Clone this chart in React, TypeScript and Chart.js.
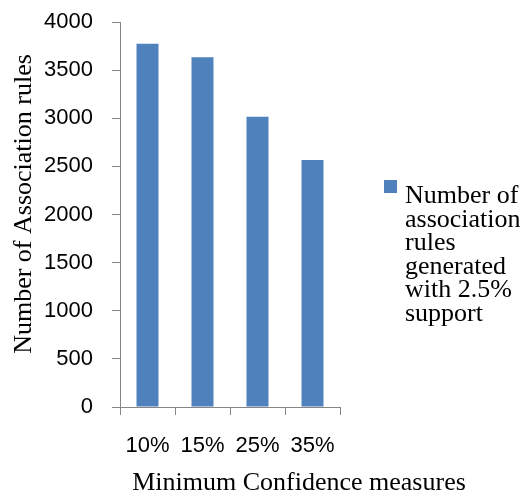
import { useEffect, useRef } from "react";
import { Chart, registerables } from "chart.js";

Chart.register(...registerables);

// Minimum confidence levels on the x axis
const categories = ["10%", "15%", "25%", "35%"];
// Rules generated at each confidence level (2.5% support)
const ruleCounts = [3775, 3635, 3015, 2565];
// Value axis range
const yMin = 0;
const yMax = 4000;
const yStep = 500;

const seriesLabel = "Number of association rules generated with 2.5% support";
const xTitle = "Minimum Confidence measures";
const yTitle = "Number of Association rules";

const BAR_COLOR = "#4F81BD";
const AXIS_COLOR = "#868686";
const SERIF = "'Liberation Serif', 'Times New Roman', serif";
const SANS = "'Liberation Sans', Arial, sans-serif";

// Draws the axis titles and a word-wrapped legend beside the plot
const titlesAndLegend = {
  id: "titlesAndLegend",
  afterDraw(chart: any) {
    const ctx: CanvasRenderingContext2D = chart.ctx;
    ctx.save();
    ctx.fillStyle = "#000";
    ctx.font = `26px ${SERIF}`;
    ctx.textBaseline = "alphabetic";

    // x-axis title
    ctx.textAlign = "center";
    ctx.fillText(xTitle, 299, 490);

    // y-axis title (rotated)
    ctx.save();
    ctx.translate(31, 204);
    ctx.rotate(-Math.PI / 2);
    ctx.fillText(yTitle, 0, 0);
    ctx.restore();

    // legend swatch and wrapped label
    const boxX = 384;
    const boxY = 180;
    const textX = 405;
    const firstBaseline = 203;
    const lineGap = 23.5;
    ctx.fillStyle = BAR_COLOR;
    ctx.fillRect(boxX, boxY, 13, 13);

    ctx.fillStyle = "#000";
    ctx.font = `26px ${SERIF}`;
    ctx.textAlign = "left";
    const maxW = chart.width - textX;
    const words = seriesLabel.split(" ");
    const lines: string[] = [];
    let cur = "";
    for (const w of words) {
      const test = cur ? cur + " " + w : w;
      if (cur && ctx.measureText(test).width > maxW) {
        lines.push(cur);
        cur = w;
      } else {
        cur = test;
      }
    }
    if (cur) lines.push(cur);
    lines.forEach((ln, i) => ctx.fillText(ln, textX, firstBaseline + i * lineGap));
    ctx.restore();
  },
};

export default function App() {
  const canvasRef = useRef<HTMLCanvasElement | null>(null);

  useEffect(() => {
    if (!canvasRef.current) return;
    const chart = new Chart(canvasRef.current, {
      type: "bar",
      data: {
        labels: categories,
        datasets: [
          {
            label: seriesLabel,
            data: ruleCounts,
            backgroundColor: BAR_COLOR,
            barPercentage: 0.4,
            categoryPercentage: 1.0,
          },
        ],
      },
      options: {
        responsive: false,
        animation: false,
        layout: { padding: { top: 22, right: 185, bottom: 0, left: 0 } },
        plugins: {
          legend: { display: false },
          tooltip: { enabled: false },
          title: { display: false },
        },
        scales: {
          x: {
            grid: {
              display: true,
              offset: true,
              drawOnChartArea: false,
              drawTicks: true,
              tickLength: 8,
              color: AXIS_COLOR,
            },
            border: { display: true, color: AXIS_COLOR, width: 1 },
            ticks: {
              color: "#000",
              font: { family: SANS, size: 22 },
              padding: 18,
              maxRotation: 0,
            },
            afterFit(scale: any) {
              scale.height = 85;
            },
          },
          y: {
            min: yMin,
            max: yMax,
            grid: {
              display: true,
              drawOnChartArea: false,
              drawTicks: true,
              tickLength: 8,
              color: AXIS_COLOR,
            },
            border: { display: true, color: AXIS_COLOR, width: 1 },
            ticks: {
              stepSize: yStep,
              color: "#000",
              font: { family: SANS, size: 22 },
              padding: 19,
              callback: (v: any) => String(v),
            },
            afterFit(scale: any) {
              scale.width = 120;
              scale.paddingTop = 0;
              scale.paddingBottom = 0;
            },
          },
        },
      },
      plugins: [titlesAndLegend],
    });
    return () => chart.destroy();
  }, []);

  return (
    <div style={{ position: "absolute", left: 0, top: 0, width: 525, height: 492, background: "#fff" }}>
      <canvas ref={canvasRef} width={525} height={492} style={{ display: "block" }} />
    </div>
  );
}
